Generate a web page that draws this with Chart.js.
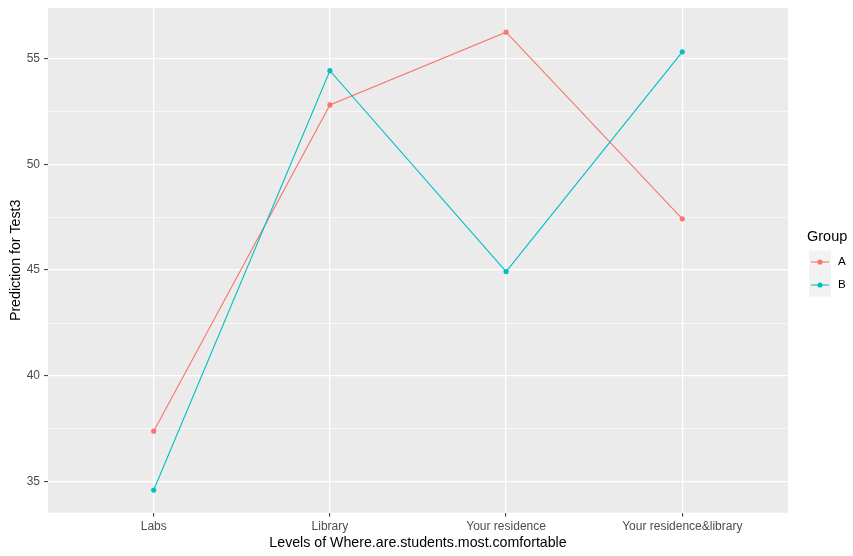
<!DOCTYPE html>
<html>
<head>
<meta charset="utf-8">
<script src="https://cdn.jsdelivr.net/npm/chart.js@4/dist/chart.umd.min.js"></script>
<style>
  html, body { margin: 0; padding: 0; background: #fff; }
  #wrap { width: 853px; height: 556px; }
</style>
</head>
<body>
<div id="wrap"><canvas id="line-chart" width="853" height="556"></canvas></div>
<script>
// levels on the x axis and the predicted Test3 scores per group
const categories = ["Labs", "Library", "Your residence", "Your residence&library"];
const groupA = [37.39, 52.80, 56.24, 47.42];
const groupB = [34.61, 54.42, 44.93, 55.31];
const yTicks = [35, 37.5, 40, 42.5, 45, 47.5, 50, 52.5, 55];

const colA = "#F8766D";
const colB = "#00BFC4";
const fontFam = "'Liberation Sans', Arial, Helvetica, sans-serif";

const toPoints = arr => arr.map((v, i) => ({ x: i + 1, y: v }));
const isMajor = v => Math.abs(v % 5) < 1e-6;

// grey panel behind the grid
const panelBg = {
  id: "panelBg",
  beforeDraw(chart) {
    const { ctx, chartArea: a } = chart;
    ctx.save();
    ctx.fillStyle = "#EBEBEB";
    ctx.fillRect(a.left, a.top, a.right - a.left, a.bottom - a.top);
    ctx.restore();
  }
};

// ggplot-like legend on the right
const groupLegend = {
  id: "groupLegend",
  afterDraw(chart) {
    const ctx = chart.ctx;
    ctx.save();
    ctx.fillStyle = "#000";
    ctx.font = "14.5px " + fontFam;
    ctx.textBaseline = "middle";
    ctx.textAlign = "left";
    ctx.fillText("Group", 807, 237);

    const items = [["A", colA], ["B", colB]];
    items.forEach(([name, col], i) => {
      const top = 250.5 + i * 23;
      ctx.fillStyle = "#F2F2F2";
      ctx.fillRect(809, top, 22, 23);
      const cy = top + 11.5;
      ctx.strokeStyle = col;
      ctx.lineWidth = 1.1;
      ctx.beginPath();
      ctx.moveTo(811, cy);
      ctx.lineTo(829, cy);
      ctx.stroke();
      ctx.fillStyle = col;
      ctx.beginPath();
      ctx.arc(820, cy, 2.6, 0, Math.PI * 2);
      ctx.fill();
      ctx.fillStyle = "#000";
      ctx.font = "11.7px " + fontFam;
      ctx.fillText(name, 838, cy);
    });
    ctx.restore();
  }
};

new Chart(document.getElementById("line-chart"), {
  type: "line",
  data: {
    datasets: [
      {
        label: "A",
        data: toPoints(groupA),
        borderColor: colA,
        backgroundColor: colA,
        borderWidth: 1.1,
        pointRadius: 2.6,
        pointBorderWidth: 0,
        order: 1
      },
      {
        label: "B",
        data: toPoints(groupB),
        borderColor: colB,
        backgroundColor: colB,
        borderWidth: 1.1,
        pointRadius: 2.6,
        pointBorderWidth: 0,
        order: 0
      }
    ]
  },
  options: {
    responsive: false,
    animation: false,
    layout: { padding: { top: 8, right: 65, left: 0, bottom: 0 } },
    plugins: {
      legend: { display: false },
      tooltip: { enabled: false }
    },
    scales: {
      x: {
        type: "linear",
        min: 0.4,
        max: 4.6,
        afterBuildTicks: scale => {
          scale.ticks = categories.map((c, i) => ({ value: i + 1 }));
        },
        afterFit: scale => {
          scale.height = 43.3;
          scale.paddingLeft = 0;
          scale.paddingRight = 0;
        },
        border: { display: false },
        grid: {
          color: "#FFFFFF",
          lineWidth: 1.2,
          tickColor: "#333333",
          tickLength: 4,
          tickWidth: 1
        },
        ticks: {
          color: "#4D4D4D",
          font: { family: fontFam, size: 12 },
          padding: 3,
          maxRotation: 0,
          autoSkip: false,
          callback: v => categories[v - 1]
        },
        title: {
          display: true,
          text: "Levels of Where.are.students.most.comfortable",
          color: "#000",
          font: { family: fontFam, size: 14.2 },
          padding: { top: 0, bottom: 4 }
        }
      },
      y: {
        min: 33.54,
        max: 57.38,
        afterBuildTicks: scale => {
          scale.ticks = yTicks.map(v => ({ value: v }));
        },
        afterFit: scale => {
          scale.width = 48;
          scale.paddingTop = 0;
          scale.paddingBottom = 0;
        },
        border: { display: false },
        grid: {
          color: "#FFFFFF",
          lineWidth: ctx => (isMajor(ctx.tick.value) ? 1.2 : 0.6),
          tickColor: ctx => (isMajor(ctx.tick.value) ? "#333333" : "rgba(0,0,0,0)"),
          tickLength: 4,
          tickWidth: 1
        },
        ticks: {
          color: "#4D4D4D",
          font: { family: fontFam, size: 12 },
          padding: 4,
          autoSkip: false,
          callback: v => (isMajor(v) ? String(v) : "")
        },
        title: {
          display: true,
          text: "Prediction for Test3",
          color: "#000",
          font: { family: fontFam, size: 14.2 },
          padding: { top: 8, bottom: 0 }
        }
      }
    }
  },
  plugins: [panelBg, groupLegend]
});
</script>
</body>
</html>
